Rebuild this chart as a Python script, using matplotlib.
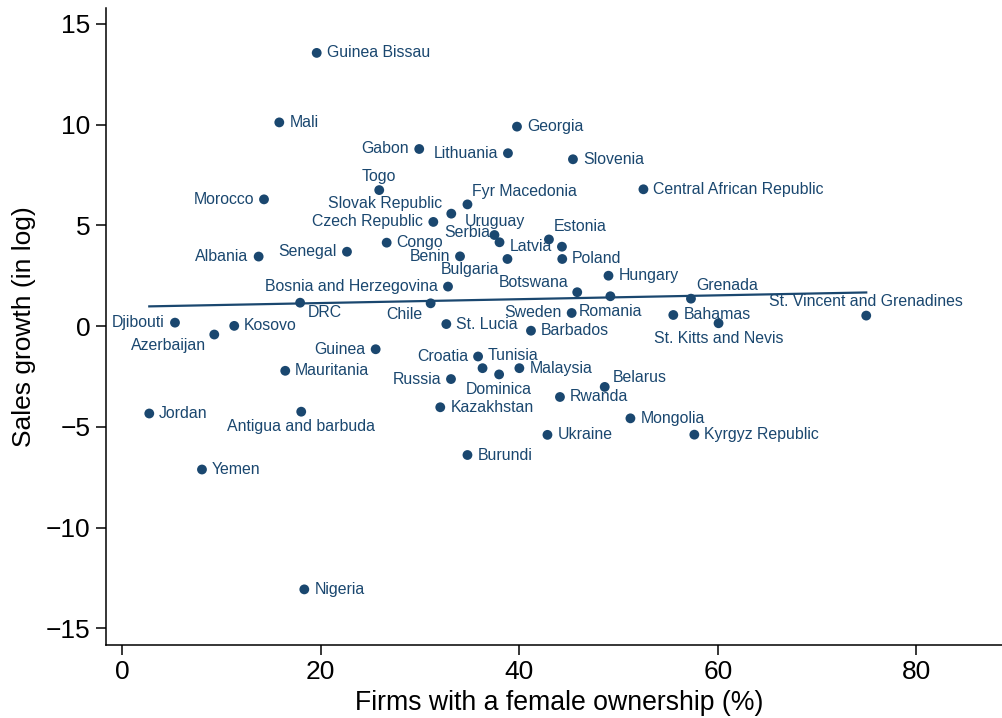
import numpy as np
import matplotlib
matplotlib.use("Agg")
import matplotlib.pyplot as plt

# country data
countries = [
    "Guinea Bissau", "Mali", "Georgia", "Gabon", "Lithuania", "Slovenia", "Togo",
    "Central African Republic", "Morocco", "Fyr Macedonia", "Slovak Republic",
    "Czech Republic", "Uruguay", "Serbia", "Estonia", "Latvia", "Congo", "Senegal",
    "Albania", "Benin", "Bulgaria", "Poland", "Hungary", "Bosnia and Herzegovina",
    "Botswana", "Romania", "Grenada", "DRC", "Chile", "Sweden", "Bahamas",
    "St. Vincent and Grenadines", "Djibouti", "St. Lucia", "Kosovo",
    "St. Kitts and Nevis", "Barbados", "Azerbaijan", "Guinea", "Croatia", "Tunisia",
    "Dominica", "Malaysia", "Mauritania", "Russia", "Belarus", "Rwanda", "Kazakhstan",
    "Jordan", "Antigua and barbuda", "Mongolia", "Ukraine", "Kyrgyz Republic",
    "Yemen", "Burundi", "Nigeria",
]
female_own = [
    19.59, 15.82, 39.77, 29.92, 38.86, 45.41, 25.89,
    52.51, 14.28, 34.78, 33.15,
    31.34, 37.50, 38.01, 42.99, 44.30, 26.64, 22.64,
    13.74, 34.03, 38.81, 44.33, 48.99, 32.82,
    45.84, 49.18, 57.30, 17.92, 31.07, 45.28, 55.52,
    74.96, 5.31, 32.65, 11.28,
    60.08, 41.18, 9.27, 25.53, 35.85, 36.30,
    37.97, 40.01, 16.42, 33.12, 48.61, 44.10, 32.04,
    2.72, 18.03, 51.20, 42.84, 57.64,
    8.03, 34.78, 18.34,
]
sales_growth = [
    13.56, 10.11, 9.90, 8.79, 8.58, 8.28, 6.75,
    6.79, 6.29, 6.04, 5.58,
    5.17, 4.52, 4.16, 4.30, 3.94, 4.14, 3.69,
    3.45, 3.46, 3.33, 3.33, 2.50, 1.96,
    1.68, 1.48, 1.36, 1.16, 1.13, 0.65, 0.55,
    0.52, 0.17, 0.10, 0.01,
    0.14, -0.23, -0.42, -1.15, -1.51, -2.09,
    -2.40, -2.09, -2.22, -2.63, -3.02, -3.52, -4.03,
    -4.34, -4.25, -4.58, -5.40, -5.39,
    -7.12, -6.40, -13.07,
]

# label clock positions (Stata style)
label_pos = [
    3, 3, 3, 9, 9, 3, 12,
    3, 9, 1, 10,
    9, 12, 10, 1, 9, 3, 9,
    9, 9, 8, 3, 3, 9,
    10, 6, 1, 4, 8, 9, 3,
    12, 9, 3, 3,
    6, 3, 8, 9, 9, 1,
    6, 3, 3, 9, 2, 3, 3,
    3, 6, 3, 3, 3,
    3, 3, 3,
]

navy = "#1a476f"
# offsets in pixels (right, up) and horizontal alignment per clock position
clock = {
    3: (10, 0, "left"), 9: (-10, 0, "right"), 12: (0, 14, "center"),
    6: (0, -15, "center"), 1: (5, 13, "left"), 2: (8, 9, "left"),
    10: (-9, 10, "right"), 8: (-8.5, -11, "right"), 4: (8, -10, "left"),
}

plt.rcParams["font.family"] = ["Liberation Sans", "DejaVu Sans"]

fig = plt.figure(figsize=(10.02, 7.18), dpi=100)
ax = fig.add_axes([0.1053, 0.1017, 0.8947, 0.8872])

x = np.array(female_own)
y = np.array(sales_growth)

ax.scatter(x, y, s=50, color=navy, edgecolors="none", zorder=3)

for name, xi, yi, pos in zip(countries, x, y, label_pos):
    dx, dy, ha = clock[pos]
    ax.annotate(name, (xi, yi), xytext=(dx * 0.72, dy * 0.72),
                textcoords="offset points", ha=ha, va="center",
                fontsize=11.4, color=navy)

# linear fit
coeffs = np.polyfit(x, y, 1)
x_fit = np.linspace(x.min(), x.max(), 100)
ax.plot(x_fit, np.polyval(coeffs, x_fit), color=navy, lw=1.6, zorder=2)

ax.set_xlim(-1.69, 88.64)
ax.set_ylim(-15.83, 15.79)
ax.set_xticks([0, 20, 40, 60, 80])
ax.set_yticks([-15, -10, -5, 0, 5, 10, 15])

for side in ["top", "right"]:
    ax.spines[side].set_visible(False)
for side in ["left", "bottom"]:
    ax.spines[side].set_linewidth(1.1)

ax.tick_params(direction="out", length=7.2, width=1.1, labelsize=19, pad=3.5)

ax.set_xlabel("Firms with a female ownership (%)", fontsize=19.2)
ax.set_ylabel("Sales growth (in log)", fontsize=19)
ax.xaxis.set_label_coords(0.506, -0.0706)
ax.yaxis.set_label_coords(-0.0775, 0.5)

fig.savefig("out.png", dpi=100)
